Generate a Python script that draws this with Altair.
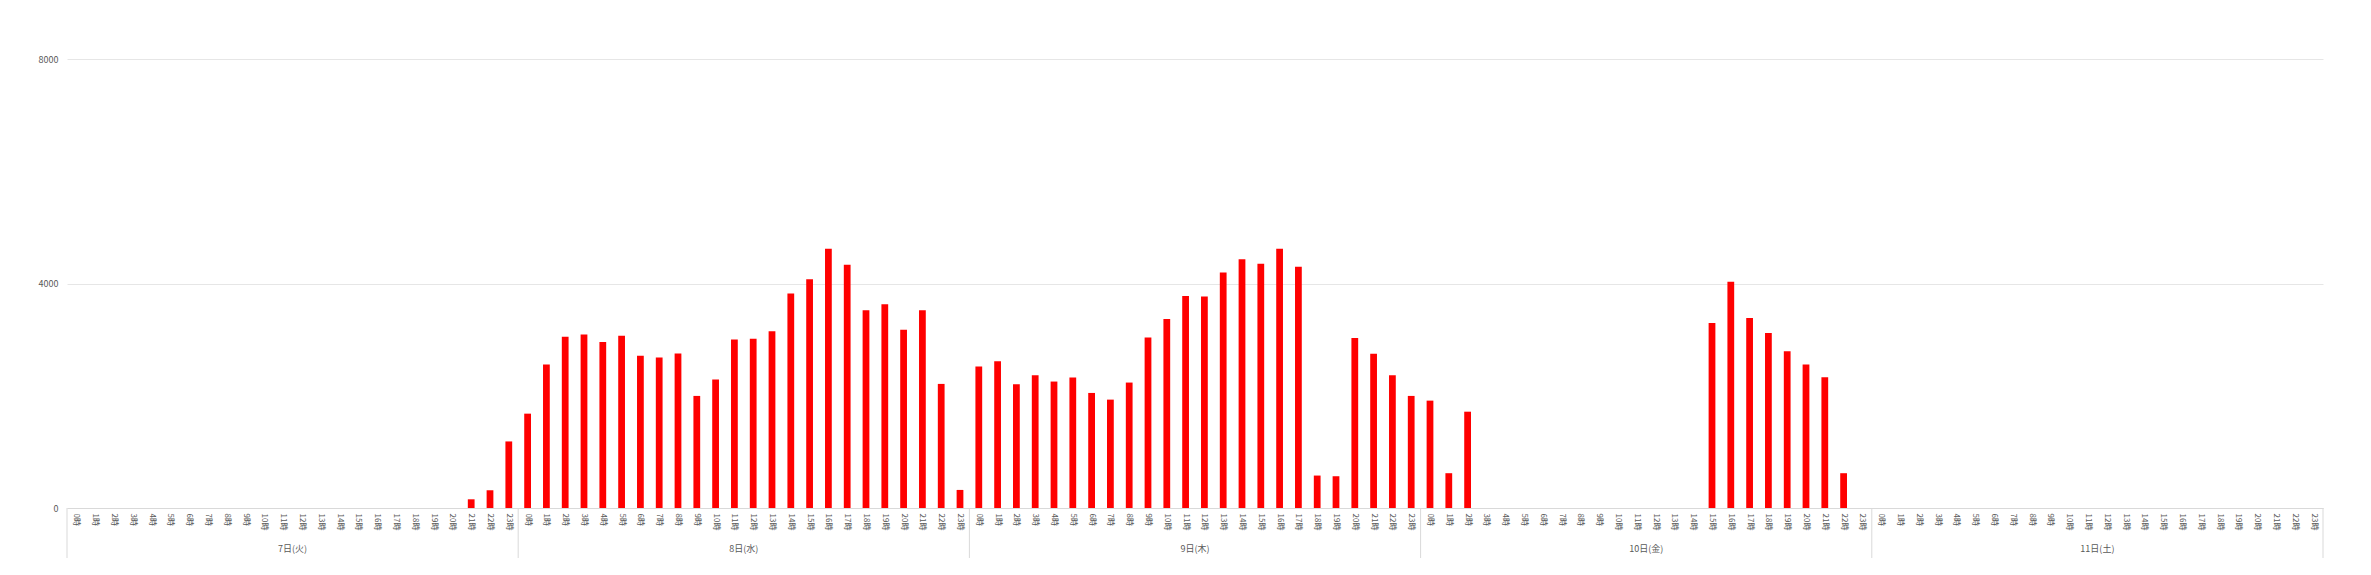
import altair as alt
import pandas as pd

days = ["7日(火)", "8日(水)", "9日(木)", "10日(金)", "11日(土)"]
hours = [f"{h}時" for h in range(24)]

day7 = [0, 0, 0, 0, 0, 0, 0, 0, 0, 0, 0, 0, 0, 0, 0, 0, 0, 0, 0, 0, 0, 155, 316, 1186]
day8 = [1681, 2557, 3052, 3093, 2956, 3069, 2712, 2682, 2754, 1997, 2289, 3004,
        3016, 3147, 3820, 4077, 4619, 4333, 3522, 3630, 3177, 3522, 2211, 322]
day9 = [2521, 2616, 2205, 2366, 2253, 2324, 2050, 1931, 2235, 3040, 3367, 3779,
        3767, 4196, 4434, 4351, 4619, 4297, 578, 566, 3028, 2748, 2366, 1997]
day10 = [1913, 620, 1716, 0, 0, 0, 0, 0, 0, 0, 0, 0,
         0, 0, 0, 3296, 4029, 3386, 3117, 2795, 2557, 2330, 620, 0]
day11 = [0, 0, 0, 0, 0, 0, 0, 0, 0, 0, 0, 0, 0, 0, 0, 0, 0, 0, 0, 0, 0, 0, 0, 0]
y_ticks = [0, 4000, 8000]

series = [day7, day8, day9, day10, day11]
rows = []
for d, vals in zip(days, series):
    for h, v in zip(hours, vals):
        rows.append({"key": f"{d}|{h}", "day": d, "hour": h, "value": v})
df = pd.DataFrame(rows)
keys = list(df["key"])

starts = pd.DataFrame({"key": [f"{d}|{hours[0]}" for d in days]})
ends = pd.DataFrame({"key": [f"{days[-1]}|{hours[-1]}"]})
mids = pd.DataFrame({"key": [f"{d}|{hours[12]}" for d in days], "day": days})

W, H = 2256, 449
FONT = "Noto Sans CJK JP"
GRAY = "#595959"

xscale = alt.Scale(domain=keys, paddingInner=0, paddingOuter=0)

bars = alt.Chart(df).mark_bar(color="#ff0000", width=alt.RelativeBandSize(0.36)).encode(
    x=alt.X("key:N", scale=xscale, sort=keys, title=None,
            axis=alt.Axis(labelExpr="split(datum.label,'|')[1]", labelAngle=90,
                          labelAlign="left", labelBaseline="middle", labelFontSize=8,
                          labelColor=GRAY, labelFont=FONT, labelPadding=5,
                          labelOverlap=False, ticks=False, domainColor="#d9d9d9",
                          grid=False)),
    y=alt.Y("value:Q", scale=alt.Scale(domain=[0, 8000], nice=False), title=None,
            axis=alt.Axis(values=y_ticks, format="d", gridColor="#e6e6e6", domain=False,
                          ticks=False, labelFontSize=9, labelColor=GRAY, labelFont=FONT,
                          labelPadding=9)),
)

sep = alt.Chart(starts).mark_rule(color="#d9d9d9", strokeWidth=1).encode(
    x=alt.X("key:N", scale=xscale, sort=keys, bandPosition=0),
    y=alt.value(H), y2=alt.value(H + 50),
)
sep_end = alt.Chart(ends).mark_rule(color="#d9d9d9", strokeWidth=1).encode(
    x=alt.X("key:N", scale=xscale, sort=keys, bandPosition=1),
    y=alt.value(H), y2=alt.value(H + 50),
)
day_text = alt.Chart(mids).mark_text(fontSize=9, color=GRAY, font=FONT, baseline="middle").encode(
    x=alt.X("key:N", scale=xscale, sort=keys, bandPosition=0),
    y=alt.value(H + 41),
    text="day:N",
)

chart = alt.layer(bars, sep, sep_end, day_text).properties(
    width=W, height=H,
    autosize=alt.AutoSizeParams(type="none"),
    padding={"left": 59, "top": 51, "right": 40, "bottom": 50},
).configure_view(stroke=None)

chart.save("out.html", embed_options={"renderer": "svg", "actions": False})
